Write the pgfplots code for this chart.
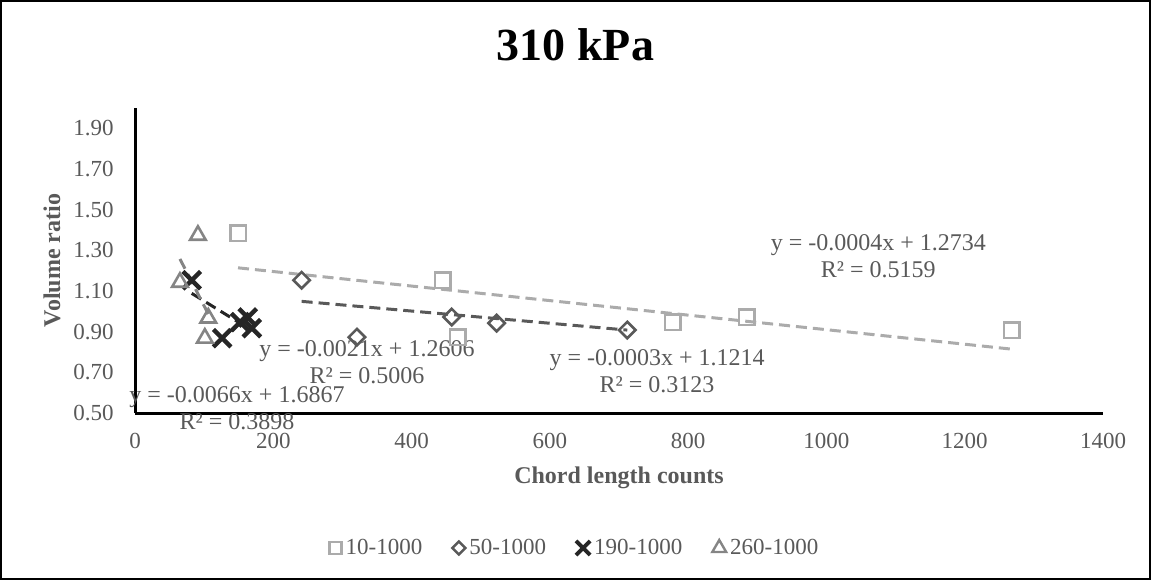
\documentclass[border=0pt]{standalone}
\usepackage{fontspec}
\setmainfont{Liberation Serif}
\usepackage{pgfplots}
\pgfplotsset{compat=1.18}
\definecolor{txt}{HTML}{595959}
\definecolor{sq}{HTML}{ABABAB}
\definecolor{dm}{HTML}{595959}
\definecolor{xx}{HTML}{262626}
\definecolor{tr}{HTML}{858585}
\begin{document}
\begin{tikzpicture}[x=1pt,y=1pt]
\useasboundingbox (0,0) rectangle (575.5,290);
\draw[black,line width=0.8pt] (0.4,0.4) rectangle (575.1,289.6);
\node[font=\fontsize{23}{26}\selectfont\bfseries] at (287.75,267.5) {310 kPa};
\begin{axis}[
  at={(67.5pt,83.5pt)}, anchor=south west,
  scale only axis, width=484pt, height=152.5pt,
  xmin=0, xmax=1400, ymin=0.5, ymax=2.0,
  xtick={0,200,400,600,800,1000,1200,1400},
  ytick={0.5,0.7,0.9,1.1,1.3,1.5,1.7,1.9},
  yticklabel style={/pgf/number format/fixed,/pgf/number format/fixed zerofill,/pgf/number format/precision=2, xshift=-7.2pt},
  /pgf/number format/1000 sep={},
  /pgf/number format/assume math mode=true,
  axis x line*=bottom, axis y line*=left,
  axis line style={line width=1.5pt,black},
  major tick length=0pt,
  tick label style={font=\fontsize{11.5}{13}\selectfont, text=txt},
  xticklabel style={yshift=-6.4pt},
  xlabel={Chord length counts}, ylabel={Volume ratio},
  label style={font=\fontsize{12}{14}\selectfont\bfseries, text=txt},
  xlabel style={at={(axis description cs:0.5,0)}, anchor=center, yshift=-32.5pt},
  ylabel style={at={(axis description cs:-0.0857,0.5)}, anchor=center},
  legend style={at={(axis description cs:0.4556,-0.4426)}, anchor=center, draw=none, fill=none,
    font=\fontsize{11.5}{13}\selectfont, text=txt,
    /tikz/every even column/.append style={column sep=13pt}},
  legend columns=-1,
  clip=false,
]
% trendlines
\addplot[forget plot, sq, line width=1.5pt, dash pattern=on 5.5pt off 3pt] coordinates {(149,1.214) (1268,0.814)};
\addplot[forget plot, dm, line width=1.5pt, dash pattern=on 5.5pt off 3pt] coordinates {(241,1.0491) (712,0.9078)};
\addplot[forget plot, xx, line width=1.5pt, dash pattern=on 5.5pt off 3pt] coordinates {(82,1.0884) (169,0.9057)};
\addplot[forget plot, tr, line width=1.5pt, dash pattern=on 5.5pt off 3pt] coordinates {(65,1.2577) (106,0.987)};
% series
\addplot[only marks, mark=square, mark size=3.9pt, sq, line width=1.3pt,
  legend image code/.code={\draw[sq, line width=1.2pt, mark=square, mark size=3pt] plot coordinates {(0.12cm,0cm)};}]
  coordinates {(149,1.384) (445,1.153) (467,0.873) (778,0.947) (885,0.972) (1268,0.908)};
\addlegendentry{10-1000}
\addplot[only marks, mark=square, mark options={rotate=45}, mark size=2.9pt, dm, line width=1.3pt,
  legend image code/.code={\draw[dm, line width=1.2pt, mark=square, mark options={rotate=45}, mark size=2.3pt] plot coordinates {(0.12cm,0cm)};}]
  coordinates {(241,1.153) (321,0.873) (458,0.972) (523,0.942) (712,0.908)};
\addlegendentry{50-1000}
\addplot[only marks, mark=x, mark size=6.2pt, xx, line width=2.2pt,
  legend image code/.code={\draw[xx, line width=2pt, mark=x, mark size=5pt] plot coordinates {(0.12cm,0cm)};}]
  coordinates {(82,1.153) (126,0.868) (152,0.947) (163,0.970) (169,0.917)};
\addlegendentry{190-1000}
\addplot[only marks, mark=triangle, mark size=4.5pt, tr, line width=1.3pt,
  legend image code/.code={\draw[tr, line width=1.2pt, mark=triangle, mark size=4pt] plot coordinates {(0.12cm,0cm)};}]
  coordinates {(91,1.374) (65,1.143) (106,0.967) (101,0.868)};
\addlegendentry{260-1000}
% trendline labels
\node[font=\fontsize{12}{13.5}\selectfont, text=txt, align=center] at (axis cs:1075,1.27) {y = -0.0004x + 1.2734\\R² = 0.5159};
\node[font=\fontsize{12}{13.5}\selectfont, text=txt, align=center] at (axis cs:755,0.704) {y = -0.0003x + 1.1214\\R² = 0.3123};
\node[font=\fontsize{12}{13.5}\selectfont, text=txt, align=center] at (axis cs:335.5,0.748) {y = -0.0021x + 1.2606\\R² = 0.5006};
\node[font=\fontsize{12}{13.5}\selectfont, text=txt, align=center] at (axis cs:147.5,0.522) {y = -0.0066x + 1.6867\\R² = 0.3898};
\end{axis}
\end{tikzpicture}
\end{document}
